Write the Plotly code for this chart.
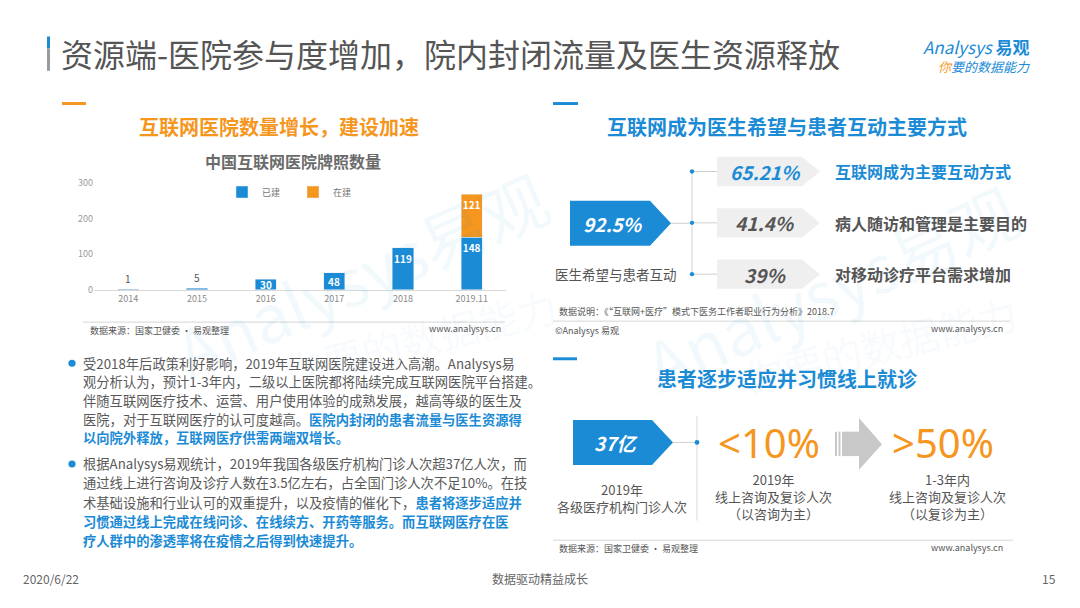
import plotly.graph_objects as go

# the page keeps the browser's 8px body margin, so the figure is 16px smaller
PAD = 8
W, H = 1080 - 2 * PAD, 608 - 2 * PAD
FONT = "Noto Sans CJK SC"
BLUE = "#1b8bd6"
ORANGE = "#f5961e"
GRAY = "#595959"

# ---- data ----
years = ["2014", "2015", "2016", "2017", "2018", "2019.11"]
built = [1, 5, 30, 48, 119, 148]
building = [None, None, None, None, None, 121]
y_ticks = [0, 100, 200, 300]

doctor_total = "92.5%"
doctor_label = "医生希望与患者互动"
doctor_pcts = ["65.21%", "41.4%", "39%"]
doctor_items = ["互联网成为主要互动方式", "病人随访和管理是主要目的", "对移动诊疗平台需求增加"]

visits_total = "37亿"
online_now = "<10%"
online_future = ">50%"
visits_caption = ["2019年", "各级医疗机构门诊人次"]
now_caption = ["2019年", "线上咨询及复诊人次", "（以咨询为主）"]
future_caption = ["1-3年内", "线上咨询及复诊人次", "（以复诊为主）"]

para1 = [
    ("受2018年后政策利好影响，2019年互联网医院建设进入高潮。Analysys易", ""),
    ("观分析认为，预计1-3年内，二级以上医院都将陆续完成互联网医院平台搭建。", ""),
    ("伴随互联网医疗技术、运营、用户使用体验的成熟发展，越高等级的医生及", ""),
    ("医院，对于互联网医疗的认可度越高。", "医院内封闭的患者流量与医生资源得"),
    ("", "以向院外释放，互联网医疗供需两端双增长。"),
]
para2 = [
    ("根据Analysys易观统计，2019年我国各级医疗机构门诊人次超37亿人次，而", ""),
    ("通过线上进行咨询及诊疗人数在3.5亿左右，占全国门诊人次不足10%。在技", ""),
    ("术基础设施和行业认可的双重提升，以及疫情的催化下，", "患者将逐步适应并"),
    ("", "习惯通过线上完成在线问诊、在线续方、开药等服务。而互联网医疗在医"),
    ("", "疗人群中的渗透率将在疫情之后得到快速提升。"),
]


def X(px):
    return (px - PAD) / W


def Y(py):
    return 1 - (py - PAD) / H


shapes = []
anns = []


def txt(x, y, s, size, color=GRAY, xa="left", ya="middle", angle=0, family=FONT):
    anns.append(dict(x=X(x), y=Y(y), xref="paper", yref="paper", text=s,
                     showarrow=False, xanchor=xa, yanchor=ya, textangle=angle,
                     font=dict(size=size, color=color, family=family)))


def rect(x0, y0, x1, y1, color):
    shapes.append(dict(type="rect", xref="paper", yref="paper", x0=X(x0), x1=X(x1),
                       y0=Y(y1), y1=Y(y0), fillcolor=color, line=dict(width=0), layer="below"))


def line(x0, y0, x1, y1, color="#cfcfcf", width=1):
    shapes.append(dict(type="line", xref="paper", yref="paper", x0=X(x0), x1=X(x1),
                       y0=Y(y0), y1=Y(y1), line=dict(color=color, width=width)))


def dot(x, y, r, color=BLUE):
    shapes.append(dict(type="circle", xref="paper", yref="paper", x0=X(x - r), x1=X(x + r),
                       y0=Y(y + r), y1=Y(y - r), fillcolor=color, line=dict(width=0)))


def poly(points, color):
    path = "M " + " L ".join(f"{X(a):.5f},{Y(b):.5f}" for a, b in points) + " Z"
    shapes.append(dict(type="path", xref="paper", yref="paper", path=path,
                       fillcolor=color, line=dict(width=0), layer="below"))


def pentagon(x0, y0, x1, y1, tip, color):
    poly([(x0, y0), (x1, y0), (tip, (y0 + y1) / 2), (x1, y1), (x0, y1)], color)


fig = go.Figure()

# ---- watermarks ----
WM = "rgba(27,139,214,0.055)"
txt(360, 272, "Analysys易观", 66, WM, "center", angle=-24)
txt(420, 338, "你要的数据能力", 40, WM, "center", angle=-14)
txt(830, 285, "Analysys易观", 66, WM, "center", angle=-24)
txt(880, 345, "你要的数据能力", 40, WM, "center", angle=-14)

# ---- header ----
rect(47, 30, 50, 42, BLUE)
rect(47, 42, 50, 65, "#9a9a9a")
txt(59, 47, "资源端-医院参与度增加，院内封闭流量及医生资源释放", 32, "#555555")
txt(921, 40, "<i>Analysys</i> <b>易观</b>", 17, BLUE)
txt(936, 61, "<i><span style='color:%s'>你</span>要的数据能力</i>" % ORANGE, 13, BLUE)

# ---- left panel ----
rect(62, 97, 86, 100, ORANGE)
rect(553, 97, 578, 100, BLUE)
txt(279, 122, "<b>互联网医院数量增长，建设加速</b>", 20, ORANGE, "center")
txt(293, 157, "<b>中国互联网医院牌照数量</b>", 16, "#6b6b6b", "center")

bar_style = dict(width=0.31, texttemplate="<b>%{text}</b>", textposition="inside",
                 insidetextanchor="end", constraintext="none", textangle=0,
                 textfont=dict(color="white", size=10, family=FONT), hoverinfo="skip")
fig.add_trace(go.Bar(x=years, y=built, name="已建", marker_color=BLUE,
                     text=[str(v) if v >= 60 else "" for v in built], **bar_style))
fig.add_trace(go.Bar(x=years, y=building, name="在建", marker_color=ORANGE,
                     text=["" if v is None else str(v) for v in building], **bar_style))
for i, v in enumerate(built):
    # category axis: position by index, not by the numeric-looking label
    if v < 10:
        anns.append(dict(x=i, y=v, xref="x", yref="y", text=str(v), showarrow=False,
                         yanchor="bottom", yshift=1, font=dict(size=10, color="#555555", family=FONT)))
    elif v < 60:
        anns.append(dict(x=i, y=v / 2, xref="x", yref="y", text="<b>%d</b>" % v, showarrow=False,
                         yanchor="middle", borderpad=0, font=dict(size=10, color="white", family=FONT)))

line(83, 322, 505, 322, "#d6d6d6")
txt(88, 331, "数据来源：国家卫健委 · 易观整理", 9, "#555555")
txt(503, 329, "www.analysys.cn", 9, "#555555", "right")

for lines, y0, dy in ((para1, 364, 19.1), (para2, 467, 19.5)):
    dot(72, y0, 3.6)
    for i, (plain, hl) in enumerate(lines):
        s = plain
        if hl:
            s += "<b><span style='color:%s'>%s</span></b>" % (BLUE, hl)
        txt(81, y0 + i * dy, s, 13.3, GRAY)

# ---- right top panel ----
txt(787, 122, "<b>互联网成为医生希望与患者互动主要方式</b>", 20, BLUE, "center")
pentagon(570, 198, 650, 244, 671, BLUE)
txt(613, 221, "<b><i>%s</i></b>" % doctor_total, 19, "white", "center")
txt(553, 273, doctor_label, 13.5, "#555555")
line(671, 221, 692, 221)
line(692, 168, 692, 273)
for i, (pct, item) in enumerate(zip(doctor_pcts, doctor_items)):
    yc = 168 + i * 52.5
    line(692, yc, 717, yc)
    dot(692, yc, 2.2)
    pentagon(717, yc - 15, 802, yc + 15, 820, "#efefef")
    col = BLUE if i == 0 else "#555555"
    txt(765, yc, "<b><i>%s</i></b>" % pct, 19, col, "center")
    txt(833, yc, "<b>%s</b>" % item, 16, col)

txt(557, 311, "数据说明：《“互联网+医疗”模式下医务工作者职业行为分析》2018.7", 9, "#555555")
line(553, 321, 1010, 321, "#d6d6d6")
txt(553, 331, "©Analysys 易观", 9, "#555555")
txt(1005, 329, "www.analysys.cn", 9, "#555555", "right")

# ---- right bottom panel ----
rect(553, 358, 577, 361, BLUE)
txt(787, 380, "<b>患者逐步适应并习惯线上就诊</b>", 20, BLUE, "center")
pentagon(573, 422, 652, 468, 673, BLUE)
txt(616, 445, "<b><i>%s</i></b>" % visits_total, 19, "white", "center")
line(673, 445, 697, 445)
line(697, 418, 697, 525, "#d9d9d9")
dot(697, 445, 2.4)
txt(769, 445, online_now, 40, ORANGE, "center", family="Noto Sans")
txt(943, 445, online_future, 40, ORANGE, "center", family="Noto Sans")

# block arrow
rect(835, 434, 837, 459, "#c8c8c8")
rect(838.5, 434, 840.5, 459, "#c8c8c8")
rect(842, 434, 859, 459, "#c8c8c8")
poly([(859, 420), (882, 447), (859, 473)], "#c8c8c8")

for cx, cy, cap in ((622, 502, visits_caption), (773, 500, now_caption), (947, 500, future_caption)):
    txt(cx, cy, "<br>".join(cap), 13, "#555555", "center")

line(553, 545, 1013, 545, "#d6d6d6")
txt(557, 553, "数据来源：国家卫健委 · 易观整理", 9, "#555555")
txt(1005, 552, "www.analysys.cn", 9, "#555555", "right")

# ---- footer ----
txt(21, 584, "2020/6/22", 12, "#666666")
txt(540, 584, "数据驱动精益成长", 12, "#666666", "center")
txt(1058, 584, "15", 12, "#666666", "right")

fig.update_layout(
    width=W, height=H, autosize=False,
    margin=dict(l=0, r=0, t=0, b=0),
    paper_bgcolor="white", plot_bgcolor="rgba(0,0,0,0)",
    barmode="stack",
    font=dict(family=FONT, color=GRAY),
    showlegend=True,
    legend=dict(orientation="h", x=X(293), xanchor="center", y=Y(189), yanchor="middle",
                font=dict(size=9, color="#777777"), traceorder="normal",
                bgcolor="rgba(0,0,0,0)", itemwidth=30, entrywidth=26),
    xaxis=dict(domain=[X(94), X(506)], type="category", range=[-0.5, len(years) - 0.5],
               showline=True, linecolor="#d9d9d9", ticks="",
               tickfont=dict(size=9, color="#8a8a8a"), showgrid=False),
    yaxis=dict(domain=[Y(289), Y(180)], range=[0, 300], tickvals=y_ticks, showgrid=False,
               zeroline=False, showline=False, tickfont=dict(size=9, color="#9a9a9a")),
    shapes=shapes, annotations=anns,
)

fig.write_html("out.html", config={"displayModeBar": False})
